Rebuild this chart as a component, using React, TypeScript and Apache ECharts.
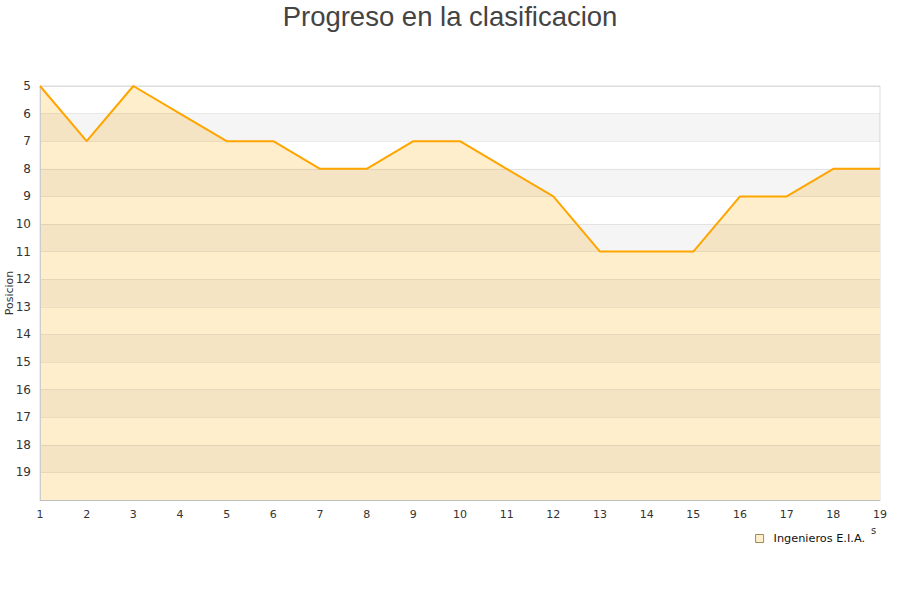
import React, { useEffect, useRef } from "react";
import * as echarts from "echarts";

const jornadas = ["1","2","3","4","5","6","7","8","9","10","11","12","13","14","15","16","17","18","19"];
const posiciones = [5, 7, 5, 6, 7, 7, 8, 8, 7, 7, 8, 9, 11, 11, 11, 9, 9, 8, 8];
const seriesName = "Ingenieros E.I.A.";
const yMin = 5;
const yMax = 20;

export default function App() {
  const ref = useRef<HTMLDivElement>(null);
  useEffect(() => {
    if (!ref.current) return;
    const chart = echarts.init(ref.current, null, { renderer: "svg" });
    chart.setOption({
      animation: false,
      title: {
        text: "Progreso en la clasificacion",
        left: "center",
        top: -3,
        textStyle: { fontFamily: "Liberation Sans", fontSize: 27.5, fontWeight: "normal", color: "#444" },
      },
      legend: {
        right: 30,
        top: 528,
        icon: "rect",
        itemWidth: 8,
        itemHeight: 8,
        data: [{ name: seriesName, itemStyle: { color: "#ffeecc", borderColor: "#a08a5a", borderWidth: 1 } }],
        textStyle: { fontFamily: "DejaVu Sans", fontSize: 11.3, color: "#111", padding: [0, 0, 0, 5] },
      },
      grid: {
        left: 40, right: 20, top: 86, bottom: 100,
        outerBoundsMode: "none",
        containLabel: false,
        show: true, borderColor: "#ddd", borderWidth: 1, backgroundColor: "transparent",
      },
      xAxis: {
        type: "category",
        data: jornadas,
        boundaryGap: false,
        axisLine: { lineStyle: { color: "#ccc" } },
        axisTick: { show: false },
        axisLabel: { fontFamily: "DejaVu Sans", fontSize: 11, color: "#333", margin: 9 },
        splitLine: { show: false },
      },
      yAxis: {
        type: "value",
        inverse: true,
        min: yMin,
        max: yMax,
        interval: 1,
        z: 3,
        name: "Posicion",
        nameLocation: "middle",
        nameGap: 25,
        nameMoveOverlap: false,
        nameTextStyle: { fontFamily: "DejaVu Sans", fontSize: 11, color: "#333" },
        axisLine: { show: true, lineStyle: { color: "#ccc" } },
        axisTick: { show: false },
        axisLabel: {
          fontFamily: "DejaVu Sans",
          fontSize: 12,
          color: "#333",
          margin: 9,
          formatter: (v: number) => (v >= yMax ? "" : String(v)),
        },
        splitLine: { show: true, lineStyle: { color: "rgba(0,0,0,0.07)" } },
        splitArea: { show: true, areaStyle: { color: ["rgba(0,0,0,0)", "rgba(0,0,0,0.04)"] } },
      },
      graphic: [
        { type: "text", left: 871, top: 525, style: { text: "s", fontFamily: "DejaVu Sans", fontSize: 10, fill: "#333" } },
      ],
      series: [
        {
          name: seriesName,
          type: "line",
          data: posiciones,
          z: 2,
          showSymbol: false,
          symbol: "none",
          lineStyle: { width: 0, opacity: 0 },
          itemStyle: { color: "#ffeecc" },
          areaStyle: { color: "#ffeecc", opacity: 1, origin: "end" },
        },
        {
          name: seriesName + " linea",
          type: "line",
          data: posiciones,
          z: 5,
          showSymbol: false,
          symbol: "none",
          lineStyle: { width: 2, color: "#ffa500" },
          itemStyle: { color: "#ffa500" },
        },
      ],
    });
    return () => chart.dispose();
  }, []);
  return <div ref={ref} style={{ position: "absolute", left: 0, top: 0, width: 900, height: 600 }} />;
}
